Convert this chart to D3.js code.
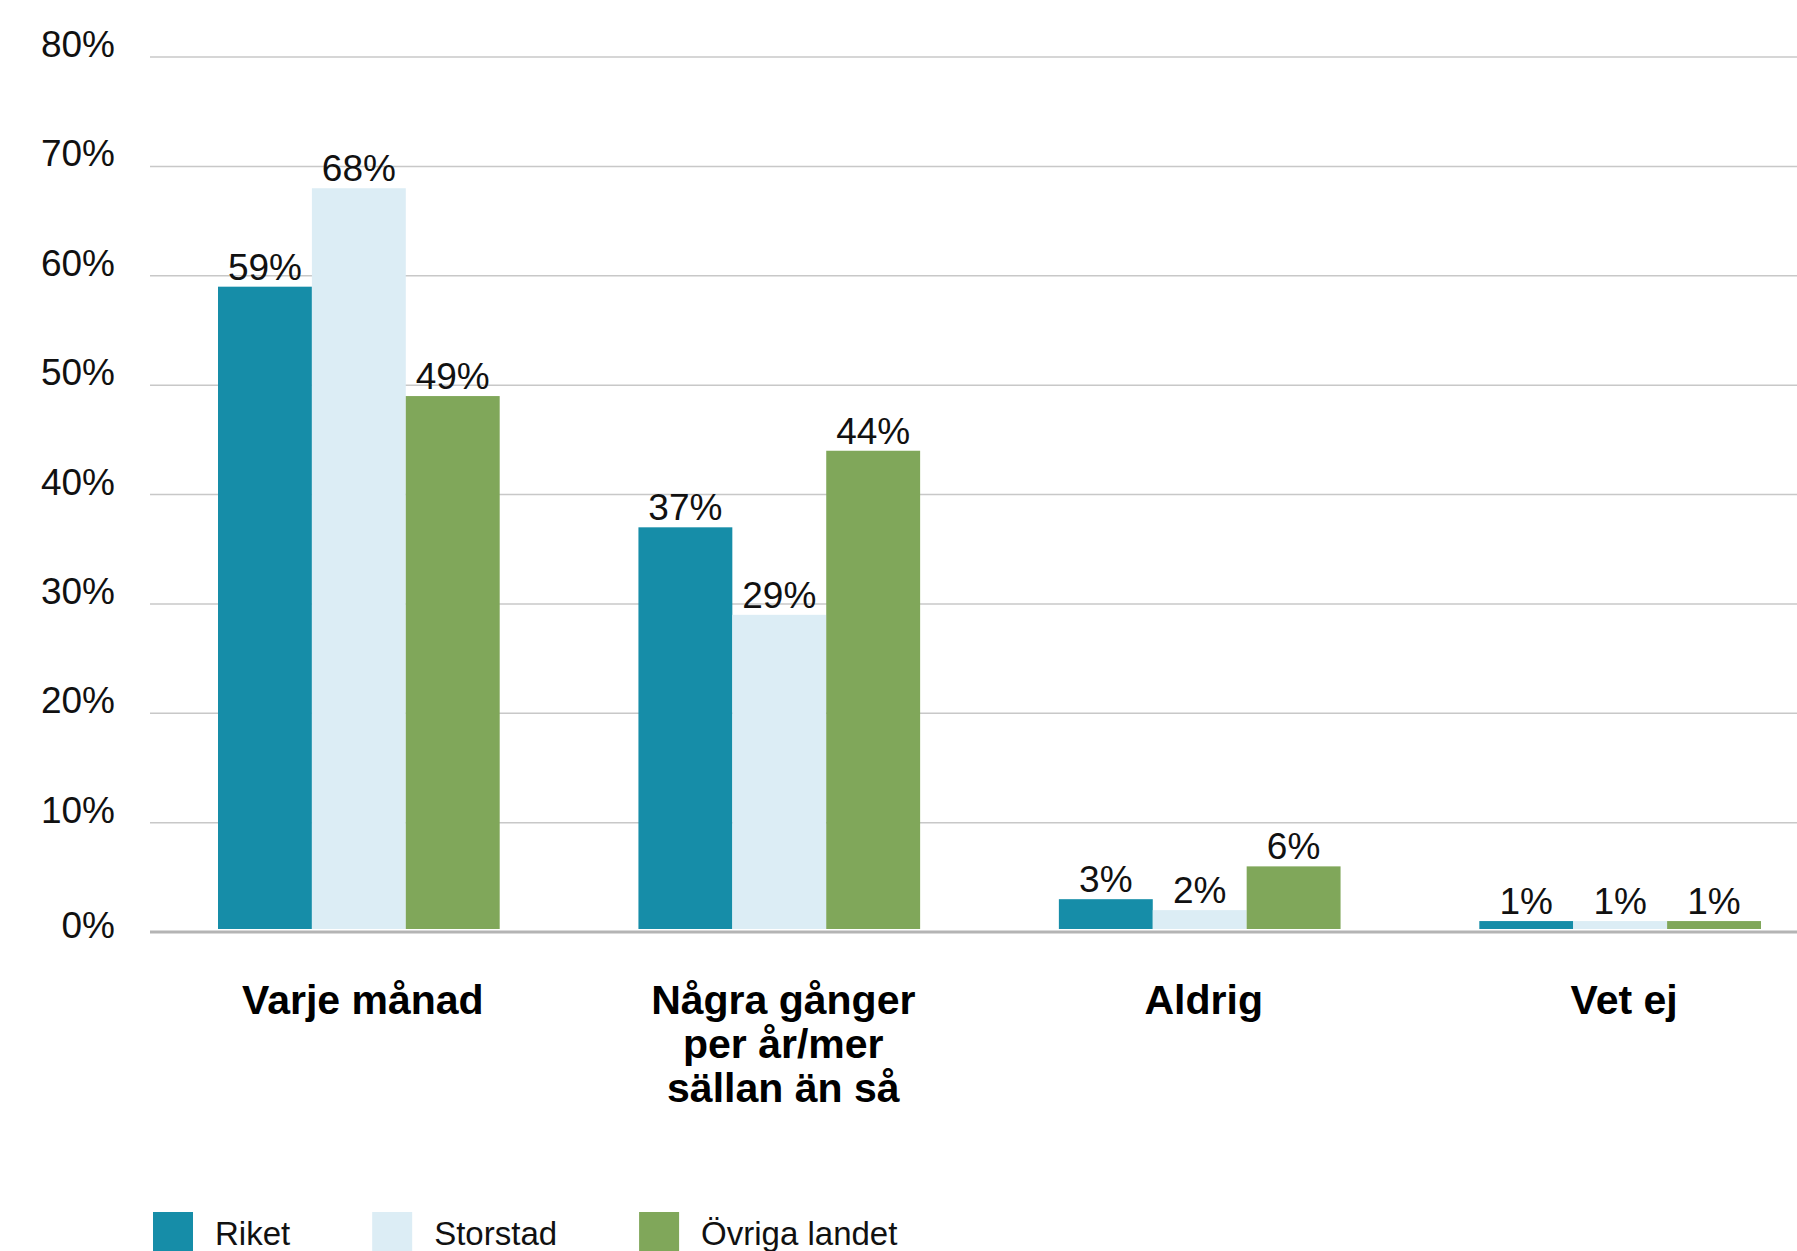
<!DOCTYPE html>
<html>
<head>
<meta charset="utf-8">
<script src="https://cdn.jsdelivr.net/npm/d3@7"></script>
<style>
  html, body { margin:0; padding:0; background:#fff; }
  svg { display:block; font-family:"Liberation Sans", Arial, sans-serif; }
</style>
</head>
<body>
<div id="chart"></div>
<script>
// chart data
const CATEGORIES = [
  ["Varje månad"],
  ["Några gånger", "per år/mer", "sällan än så"],
  ["Aldrig"],
  ["Vet ej"],
];
const SERIES = ["Riket", "Storstad", "Övriga landet"];
const RIKET    = [59, 37, 3, 1];
const STORSTAD = [68, 29, 2, 1];
const OVRIGA   = [49, 44, 6, 1];
const Y_TICKS  = [0, 10, 20, 30, 40, 50, 60, 70, 80];

const COLORS = { "Riket":"#168DA8", "Storstad":"#DCEDF5", "Övriga landet":"#80A75A" };

const W = 1797, H = 1251;

const svg = d3.select("#chart").append("svg")
  .attr("width", W)
  .attr("height", H);

const catKeys = CATEGORIES.map(c => c.join(" "));
const values  = [RIKET, STORSTAD, OVRIGA];

const y = d3.scaleLinear().domain([0, 80]).range([932, 57]);

const x = d3.scaleBand()
  .domain(catKeys)
  .range([218, 1761])
  .paddingInner(0.33)
  .paddingOuter(0);

const xs = d3.scaleBand()
  .domain(SERIES)
  .range([0, x.bandwidth()]);

// ── gridlines + y labels ──────────────────────────────────────────────────
svg.append("g").selectAll("line")
  .data(Y_TICKS.filter(t => t > 0))
  .enter()
  .append("line")
  .attr("x1", 150).attr("x2", W)
  .attr("y1", d => y(d)).attr("y2", d => y(d))
  .attr("stroke", "#C8C8C8")
  .attr("stroke-width", 1.5);

svg.append("g").selectAll("text")
  .data(Y_TICKS)
  .enter()
  .append("text")
  .attr("x", 115)
  .attr("y", d => y(d) + (d === 0 ? 6 : 0))
  .attr("text-anchor", "end")
  .style("font-size", "37px")
  .style("fill", "#111")
  .text(d => d + "%");

// ── bars ──────────────────────────────────────────────────────────────────
const rows = [];
catKeys.forEach((c, i) => {
  SERIES.forEach((s, j) => rows.push({ cat:c, series:s, value:values[j][i] }));
});

const bars = svg.append("g");
bars.selectAll("rect")
  .data(rows)
  .enter()
  .append("rect")
  .attr("x", d => x(d.cat) + xs(d.series))
  .attr("width", xs.bandwidth())
  .attr("y", d => y(d.value))
  .attr("height", d => y(0) - 3 - y(d.value))
  .attr("fill", d => COLORS[d.series]);

bars.selectAll("text")
  .data(rows)
  .enter()
  .append("text")
  .attr("x", d => x(d.cat) + xs(d.series) + xs.bandwidth() / 2)
  .attr("y", d => y(d.value) - 7)
  .attr("text-anchor", "middle")
  .style("font-size", "37px")
  .style("fill", "#111")
  .text(d => d.value + "%");

// baseline
svg.append("line")
  .attr("x1", 150).attr("x2", W)
  .attr("y1", y(0)).attr("y2", y(0))
  .attr("stroke", "#B4B4B4")
  .attr("stroke-width", 3);

// ── category labels ───────────────────────────────────────────────────────
const catG = svg.append("g").selectAll("text")
  .data(CATEGORIES)
  .enter()
  .append("text")
  .attr("text-anchor", "middle")
  .style("font-size", "41px")
  .style("font-weight", "bold")
  .style("fill", "#000");

catG.selectAll("tspan")
  .data((d, i) => d.map(line => ({ line, key:catKeys[i] })))
  .enter()
  .append("tspan")
  .attr("x", d => x(d.key) + x.bandwidth() / 2 + 4)
  .attr("y", (d, k) => 1014 + k * 44)
  .text(d => d.line);

// ── legend ────────────────────────────────────────────────────────────────
const legend = svg.append("g");
let lx = 153;
SERIES.forEach(s => {
  legend.append("rect")
    .attr("x", lx).attr("y", 1212)
    .attr("width", 40).attr("height", 40)
    .attr("fill", COLORS[s]);
  const t = legend.append("text")
    .attr("x", lx + 62)
    .attr("y", 1245)
    .style("font-size", "33px")
    .style("fill", "#111")
    .text(s);
  lx += 62 + t.node().getComputedTextLength() + 82;
});
</script>
</body>
</html>
